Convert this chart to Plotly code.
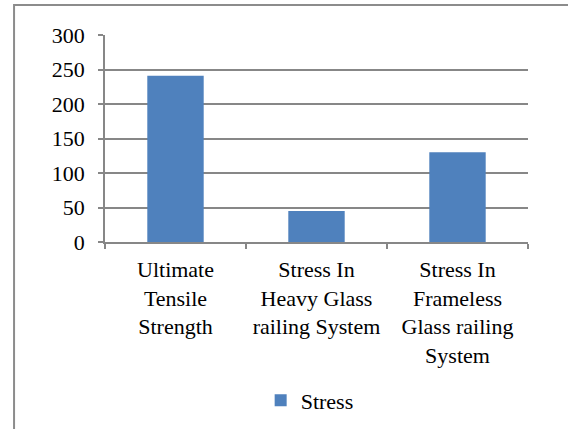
import plotly.graph_objects as go

# Stress comparison (values in MPa)
categories = [
    "Ultimate<br>Tensile<br>Strength",
    "Stress In<br>Heavy Glass<br>railing System",
    "Stress In<br>Frameless<br>Glass railing<br>System",
]
stress = [241, 45, 130]
y_ticks = [0, 50, 100, 150, 200, 250, 300]

BAR = "#4F81BD"
GRID = "#878787"
FONT = dict(family="Liberation Serif, Times New Roman, serif", size=22, color="black")

fig = go.Figure(
    go.Bar(
        x=categories,
        y=stress,
        name="Stress",
        marker=dict(color=BAR, line=dict(width=0)),
        width=0.4,
    )
)

fig.update_layout(
    width=568,
    height=429,
    margin=dict(l=105, r=40, t=35, b=187, autoexpand=False),
    paper_bgcolor="white",
    plot_bgcolor="white",
    font=FONT,
    showlegend=True,
    legend=dict(
        orientation="h",
        x=0.368,
        y=-0.765,
        xanchor="left",
        yanchor="middle",
        font=FONT,
        itemwidth=30,
    ),
    shapes=[
        dict(
            type="rect",
            xref="paper",
            yref="paper",
            x0=-0.215,
            x1=2,
            y0=-2,
            y1=1.145,
            line=dict(color="#8c8c8c", width=2),
            fillcolor="rgba(0,0,0,0)",
            layer="below",
        )
    ],
)

fig.update_xaxes(
    automargin=False,
    showline=True,
    linecolor=GRID,
    linewidth=1.5,
    ticks="outside",
    tickson="boundaries",
    ticklen=5,
    tickwidth=1.5,
    tickcolor=GRID,
    tickfont=FONT,
    ticklabelstandoff=7,
    showgrid=False,
)

fig.update_yaxes(
    automargin=False,
    range=[0, 300],
    tickvals=y_ticks,
    showline=True,
    linecolor=GRID,
    linewidth=1.5,
    ticks="outside",
    ticklen=5,
    tickwidth=1.5,
    tickcolor=GRID,
    tickfont=FONT,
    ticklabelstandoff=9,
    showgrid=True,
    gridcolor=GRID,
    gridwidth=1.5,
    zeroline=False,
)

fig.write_html("out.html")
